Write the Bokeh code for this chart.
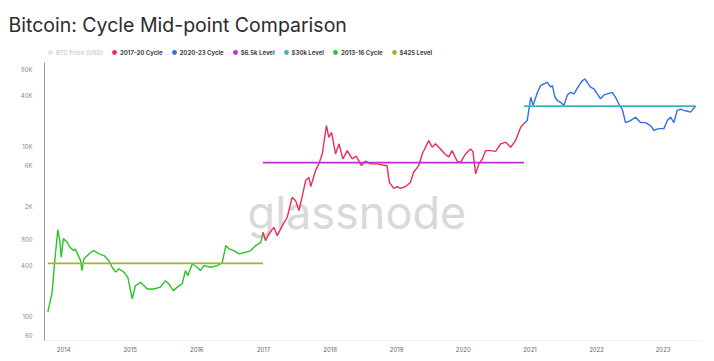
import pandas as pd
from bokeh.plotting import figure
from bokeh.models import Range1d, FixedTicker, Legend, LegendItem, Label, DatetimeTickFormatter
from bokeh.embed import file_html
from bokeh.resources import INLINE

# ---------------- data ----------------
cycle_2013_16_dates = [
    "2013-10-06", "2013-10-30", "2013-11-12", "2013-11-30", "2013-12-11", "2013-12-19",
    "2013-12-30", "2014-01-21", "2014-02-04", "2014-02-26", "2014-03-06", "2014-04-04",
    "2014-04-11", "2014-04-22", "2014-05-29", "2014-06-16", "2014-07-13", "2014-08-10",
    "2014-09-06", "2014-09-24", "2014-10-13", "2014-10-31", "2014-11-27", "2014-12-19",
    "2015-01-12", "2015-01-30", "2015-02-27", "2015-04-04", "2015-05-10", "2015-06-16",
    "2015-07-13", "2015-07-31", "2015-08-25", "2015-09-16", "2015-10-13", "2015-10-31",
    "2015-11-13", "2015-12-07", "2016-01-03", "2016-01-21", "2016-02-09", "2016-03-17",
    "2016-04-23", "2016-05-20", "2016-06-08", "2016-06-26", "2016-07-23", "2016-08-19",
    "2016-09-25", "2016-10-23", "2016-11-19", "2016-12-17", "2016-12-29",
]
cycle_2013_16_prices = [
    113, 194, 422, 1050, 787, 500,
    830, 753, 656, 600, 625, 457,
    349, 478, 573, 600, 550, 524,
    457, 382, 335, 367, 335, 290,
    162, 233, 254, 212, 212, 223,
    266, 245, 203, 223, 245, 349,
    305, 417, 382, 349, 400, 382,
    400, 435, 688, 628, 600, 550,
    573, 600, 688, 750, 984,
]

cycle_2017_20_dates = [
    "2016-12-29", "2017-01-12", "2017-01-30", "2017-02-27", "2017-03-17", "2017-04-14",
    "2017-05-11", "2017-06-07", "2017-06-26", "2017-07-14", "2017-08-02", "2017-08-20",
    "2017-09-07", "2017-09-17", "2017-10-13", "2017-10-31", "2017-11-19", "2017-12-12",
    "2017-12-25", "2018-01-09", "2018-01-31", "2018-02-19", "2018-03-12", "2018-04-05",
    "2018-05-02", "2018-05-24", "2018-06-22", "2018-07-14", "2018-08-10", "2018-09-16",
    "2018-10-31", "2018-11-09", "2018-11-22", "2018-12-16", "2019-01-04", "2019-01-22",
    "2019-02-19", "2019-03-17", "2019-04-04", "2019-05-02", "2019-05-21", "2019-06-08",
    "2019-06-26", "2019-07-15", "2019-08-02", "2019-08-29", "2019-09-22", "2019-10-14",
    "2019-11-01", "2019-11-29", "2019-12-17", "2020-01-13", "2020-02-10", "2020-02-23",
    "2020-03-09", "2020-03-27", "2020-04-15", "2020-05-03", "2020-05-30", "2020-06-27",
    "2020-07-24", "2020-08-21", "2020-09-17", "2020-10-14", "2020-11-11", "2020-11-29",
]
cycle_2017_20_prices = [
    984, 787, 940, 1127, 900, 1180,
    1480, 2540, 2320, 1770, 2660, 4000,
    4350, 3400, 5230, 6280, 8200, 17700,
    12900, 14700, 8200, 10800, 7170, 9000,
    7170, 7750, 6000, 6750, 6280, 6280,
    6000, 6000, 3800, 3240, 3400, 3240,
    3400, 3800, 5000, 6000, 8200, 9850,
    11800, 9850, 10800, 9400, 8200, 7600,
    9000, 6750, 6500, 8200, 9400, 8800,
    4800, 6280, 7170, 9000, 9000, 8800,
    10800, 11300, 9850, 11800, 16900, 18700,
]

cycle_2020_23_dates = [
    "2020-11-29", "2020-12-17", "2021-01-05", "2021-01-18", "2021-02-11", "2021-02-28",
    "2021-03-18", "2021-04-07", "2021-04-25", "2021-05-04", "2021-05-18", "2021-05-31",
    "2021-06-18", "2021-07-06", "2021-07-25", "2021-08-12", "2021-08-30", "2021-09-26",
    "2021-10-15", "2021-10-28", "2021-11-11", "2021-11-29", "2021-12-17", "2022-01-05",
    "2022-01-23", "2022-02-11", "2022-03-01", "2022-03-28", "2022-04-15", "2022-05-07",
    "2022-05-22", "2022-06-09", "2022-07-06", "2022-08-03", "2022-08-30", "2022-09-26",
    "2022-10-24", "2022-11-11", "2022-12-09", "2023-01-05", "2023-01-24", "2023-02-11",
    "2023-03-01", "2023-03-19", "2023-04-07", "2023-04-25", "2023-05-14", "2023-06-01",
    "2023-06-28",
]
cycle_2020_23_prices = [
    18700, 20300, 38100, 30600, 43600, 52300,
    54700, 57200, 50200, 52300, 38100, 34900,
    33300, 30600, 40600, 43600, 41700, 52300,
    59600, 62500, 57200, 50200, 48000, 41700,
    36600, 40600, 41700, 43600, 38100, 30600,
    27600, 19200, 20300, 22200, 19200, 19200,
    17700, 15600, 16300, 16300, 20300, 22200,
    19200, 26700, 27600, 26700, 26100, 25500,
    30100,
]

level_425 = 425
level_6500 = 6500
level_30000 = 30000

year_ticks = [2014, 2015, 2016, 2017, 2018, 2019, 2020, 2021, 2022, 2023]
y_tick_values = [60, 100, 400, 800, 2000, 6000, 10000, 40000, 80000]
y_tick_labels = ["60", "100", "400", "800", "2K", "6K", "10K", "40K", "80K"]

legend_names = ["BTC Price (USD)", "2017-20 Cycle", "2020-23 Cycle", "$6.5k Level",
                "$30k Level", "2013-16 Cycle", "$425 Level"]

# ---------------- styles ----------------
C_GREY = "#9b9b9b"
C_RED = "#ee2d55"
C_BLUE = "#2f6ee8"
C_PURPLE = "#c22bd9"
C_TEAL = "#3db6b9"
C_GREEN = "#28c42a"
C_OLIVE = "#a4b22f"
legend_colors = [C_GREY, C_RED, C_BLUE, C_PURPLE, C_TEAL, C_GREEN, C_OLIVE]
FONT = "Inter"

W, H = 712, 359
BL, BR, BT, BB = 44, 12, 46, 19

d13 = pd.to_datetime(cycle_2013_16_dates)
d17 = pd.to_datetime(cycle_2017_20_dates)
d20 = pd.to_datetime(cycle_2020_23_dates)

p = figure(width=W, height=H, x_axis_type="datetime", y_axis_type="log",
           x_range=Range1d(pd.Timestamp("2013-09-18"), pd.Timestamp("2023-07-25")),
           y_range=Range1d(52.6, 150700),
           output_backend="svg", toolbar_location=None,
           title="Bitcoin: Cycle Mid-point Comparison",
           min_border_left=BL, min_border_right=BR, min_border_top=BT, min_border_bottom=BB)
p.outline_line_color = None
p.xgrid.visible = False
p.ygrid.visible = False
p.background_fill_color = "white"
p.border_fill_color = "white"

p.title.text_font = FONT
p.title.text_font_size = "19.5px"
p.title.text_font_style = "normal"
p.title.text_color = "#2b2b2b"
p.title.align = "left"
p.title.offset = -(BL - 8)
p.title.standoff = 19

# watermark
wm = Label(x=pd.Timestamp("2018-05-28").value // 10**6, y=1680, text="glassnode",
           text_align="center", text_baseline="alphabetic", text_font_size="45px",
           text_color="#d9d9d9", text_font=FONT, level="underlay")
p.add_layout(wm)

lw = 1.4
p.line(d13, cycle_2013_16_prices, line_color=C_GREEN, line_width=lw)
p.line(d17, cycle_2017_20_prices, line_color=C_RED, line_width=lw)
p.line(d20, cycle_2020_23_prices, line_color=C_BLUE, line_width=lw)
p.line([d13[0], d13[-1]], [level_425, level_425], line_color=C_OLIVE, line_width=1.6)
p.line([d17[0], d17[-1]], [level_6500, level_6500], line_color=C_PURPLE, line_width=1.6)
p.line([d20[0], d20[-1]], [level_30000, level_30000], line_color=C_TEAL, line_width=1.6)

# legend dots (size 0 on the plot, swatch only in legend)
items = []
for name, col in zip(legend_names, legend_colors):
    r = p.scatter(x=[d13[0]], y=[cycle_2013_16_prices[0]], marker="circle", size=0,
                  fill_color=col, line_color=None)
    items.append(LegendItem(label=name, renderers=[r]))
    if name == "BTC Price (USD)":
        r.visible = False

legend = Legend(items=items, orientation="horizontal", location="top_left",
                click_policy="hide",
                label_text_font=FONT, label_text_font_size="6px", label_text_font_style="bold",
                label_text_color="#444444", glyph_width=12, glyph_height=12,
                label_height=12, label_standoff=0, spacing=5, padding=0, margin=0,
                border_line_color=None, background_fill_alpha=0,
                inactive_fill_color="white", inactive_fill_alpha=0.75)
p.add_layout(legend)

# axes
p.yaxis.ticker = FixedTicker(ticks=y_tick_values)
p.yaxis.major_label_overrides = {v: t for v, t in zip(y_tick_values, y_tick_labels)}
p.yaxis.bounds = (52.6, 97000)
p.yaxis.axis_line_color = "#9a9a9a"
p.yaxis.axis_line_width = 1
p.yaxis.major_tick_line_color = None
p.yaxis.minor_tick_line_color = None
p.yaxis.major_label_text_font = FONT
p.yaxis.major_label_text_font_size = "6px"
p.yaxis.major_label_text_color = "#8a8a8a"
p.yaxis.major_label_standoff = 6

year_ms = [pd.Timestamp(f"{y}-01-01").value // 10**6 for y in year_ticks]
p.xaxis.ticker = FixedTicker(ticks=year_ms)
p.xaxis.formatter = DatetimeTickFormatter(years="%Y", months="%Y", days="%Y", hours="%Y")
p.xaxis.axis_line_color = "#eeeeee"
p.xaxis.major_tick_line_color = None
p.xaxis.minor_tick_line_color = None
p.xaxis.major_label_text_font = FONT
p.xaxis.major_label_text_font_size = "6px"
p.xaxis.major_label_text_color = "#666666"
p.xaxis.major_label_standoff = 0

open("out.html", "w").write(file_html(p, INLINE))
